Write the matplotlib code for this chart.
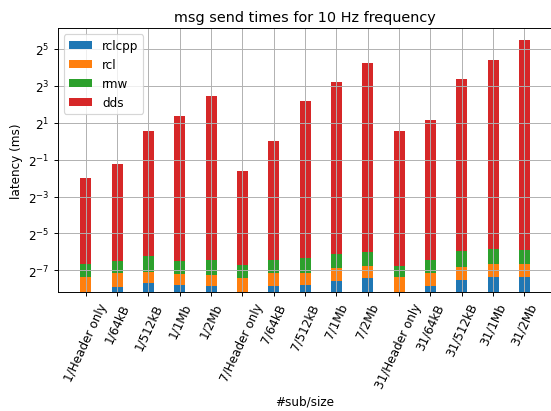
import numpy as np
import matplotlib
matplotlib.use("Agg")
import matplotlib.pyplot as plt
from matplotlib.ticker import NullLocator

labels = ["1/Header only", "1/64kB", "1/512kB", "1/1Mb", "1/2Mb",
          "7/Header only", "7/64kB", "7/512kB", "7/1Mb", "7/2Mb",
          "31/Header only", "31/64kB", "31/512kB", "31/1Mb", "31/2Mb"]

# per-layer latency in ms
rclcpp = [0.0035, 0.0042, 0.0048, 0.0045, 0.0043,
          0.0030, 0.0043, 0.0045, 0.0052, 0.0058,
          0.0031, 0.0043, 0.0054, 0.0062, 0.0062]
rcl = [0.0027, 0.0028, 0.0026, 0.0023, 0.0022,
       0.0029, 0.0027, 0.0025, 0.0034, 0.0033,
       0.0029, 0.0028, 0.0036, 0.0037, 0.0036]
rmw = [0.0037, 0.0040, 0.0061, 0.0042, 0.0049,
       0.0035, 0.0047, 0.0054, 0.0061, 0.0067,
       0.0032, 0.0046, 0.0070, 0.0076, 0.0069]
dds = [0.237, 0.409, 1.431, 2.556, 5.38,
       0.312, 0.988, 4.49, 9.11, 18.6,
       1.486, 2.177, 10.32, 21.1, 44.3]

x = np.arange(len(labels))
width = 0.35

dpi = 86
fig = plt.figure(figsize=(551 / dpi, 412 / dpi), dpi=dpi)
ax = fig.add_axes([0.1049, 0.288, 0.8975, 0.6408])

bottom = np.zeros(len(labels))
for vals, name in [(rclcpp, "rclcpp"), (rcl, "rcl"), (rmw, "rmw"), (dds, "dds")]:
    ax.bar(x, vals, width, bottom=bottom, label=name)
    bottom = bottom + np.array(vals)

ax.set_yscale("log", base=2)
ax.set_yticks([2.0 ** k for k in range(-7, 6, 2)])
ax.yaxis.set_minor_locator(NullLocator())
ax.set_ylim(2 ** -8.19, 2 ** 6.12)
ax.set_xticks(x)
ax.set_xticklabels(labels, rotation=65)
ax.set_xlim(-0.8925, 14.8925)

ax.set_title("msg send times for 10 Hz frequency")
ax.set_xlabel("#sub/size")
ax.set_ylabel("latency (ms)")
ax.grid()
ax.legend(loc="upper left")

fig.savefig("out.png", dpi=dpi)
